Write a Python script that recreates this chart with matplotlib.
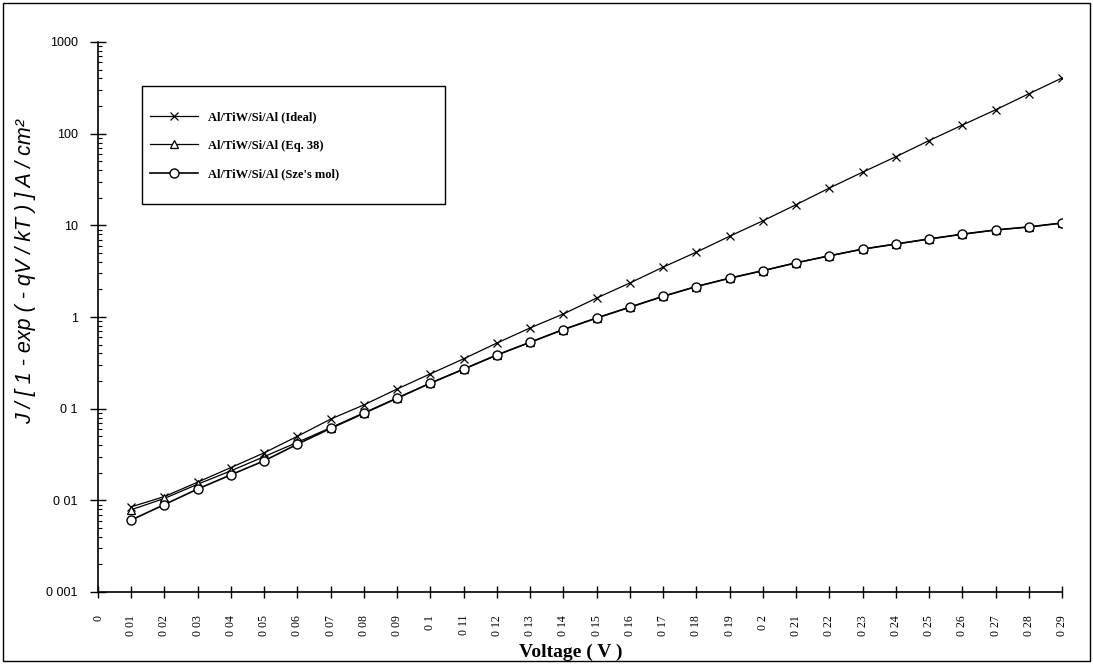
import matplotlib
matplotlib.use("Agg")
import matplotlib.pyplot as plt
from matplotlib.patches import Rectangle
from matplotlib.ticker import FixedLocator, LogLocator, NullFormatter

# ---- data ----
voltage_labels = ["0", "0 01", "0 02", "0 03", "0 04", "0 05", "0 06", "0 07", "0 08", "0 09",
                  "0 1", "0 11", "0 12", "0 13", "0 14", "0 15", "0 16", "0 17", "0 18", "0 19",
                  "0 2", "0 21", "0 22", "0 23", "0 24", "0 25", "0 26", "0 27", "0 28", "0 29"]

ideal = [None, 0.0085, 0.011, 0.0158, 0.0228, 0.033, 0.050, 0.077, 0.110, 0.164,
         0.24, 0.35, 0.52, 0.76, 1.08, 1.61, 2.35, 3.5, 5.1, 7.6,
         11.2, 16.8, 25.5, 38, 56, 84, 124, 182, 272, 405]
eq38 = [None, 0.0079, 0.0105, 0.0150, 0.0210, 0.030, 0.043, 0.062, 0.090, 0.131,
        0.19, 0.27, 0.385, 0.53, 0.73, 0.975, 1.28, 1.68, 2.15, 2.65,
        3.2, 3.9, 4.65, 5.5, 6.25, 7.1, 8.0, 8.9, 9.6, 10.6]
sze = [None, 0.0061, 0.0090, 0.0133, 0.019, 0.027, 0.041, 0.061, 0.089, 0.130,
       0.19, 0.27, 0.385, 0.53, 0.73, 0.975, 1.28, 1.68, 2.15, 2.65,
       3.2, 3.9, 4.65, 5.5, 6.25, 7.1, 8.0, 8.9, 9.6, 10.6]

series_names = ["Al/TiW/Si/Al (Ideal)", "Al/TiW/Si/Al (Eq. 38)", "Al/TiW/Si/Al (Sze's mol)"]
y_tick_values = [0.001, 0.01, 0.1, 1, 10, 100, 1000]
y_tick_labels = ["0 001", "0 01", "0 1", "1", "10", "100", "1000"]

x_label = "Voltage ( V )"
y_label = "J / [ 1 - exp ( - qV / kT ) ] A / cm\u00b2"

# ---- figure ----
W, H = 1093, 664
fig = plt.figure(figsize=(W / 100, H / 100), dpi=100)
fig.patch.set_facecolor("white")

left_px, right_px, top_px, bot_px = 98, 1062, 42, 592
ax = fig.add_axes([left_px / W, 1 - bot_px / H, (right_px - left_px) / W, (bot_px - top_px) / H])

xs = list(range(len(voltage_labels)))

def clean(vals):
    return [(x, v) for x, v in zip(xs, vals) if v is not None]

p = clean(ideal)
ax.plot([a for a, b in p], [b for a, b in p], color="black", lw=0.9, marker="x",
        ms=6, mew=0.9, label=series_names[0], zorder=3)
p = clean(eq38)
ax.plot([a for a, b in p], [b for a, b in p], color="black", lw=0.9, marker="^",
        ms=5.5, mew=0.9, mfc="white", label=series_names[1], zorder=4)
p = clean(sze)
ax.plot([a for a, b in p], [b for a, b in p], color="black", lw=1.2, marker="o",
        ms=6.5, mew=1.0, mfc="white", label=series_names[2], zorder=5)

ax.set_yscale("log")
ax.set_ylim(0.001, 1000)
ax.set_xlim(0, len(voltage_labels) - 1)

ax.yaxis.set_major_locator(FixedLocator(y_tick_values))
ax.set_yticklabels(y_tick_labels, fontfamily="Liberation Sans", fontsize=9)
ax.yaxis.set_minor_locator(LogLocator(base=10, subs=range(2, 10)))
ax.yaxis.set_minor_formatter(NullFormatter())
ax.tick_params(axis="y", which="major", direction="inout", length=11, width=1.0, pad=9)
ax.tick_params(axis="y", which="minor", direction="in", length=3, width=0.8)

ax.set_xticks(xs)
ax.set_xticklabels(voltage_labels, rotation=90, fontfamily="Liberation Serif", fontsize=8.5)
ax.tick_params(axis="x", which="major", direction="inout", length=9, width=1.0, pad=12)
ax.tick_params(axis="x", which="minor", bottom=False)

for s in ["top", "right"]:
    ax.spines[s].set_visible(False)
for s in ["left", "bottom"]:
    ax.spines[s].set_linewidth(1.2)

fig.text(571 / W, 1 - 652 / H, x_label, ha="center", va="center",
         fontfamily="Liberation Serif", fontweight="bold", fontsize=14)
fig.text(26 / W, 1 - 272 / H, y_label, ha="center", va="center", rotation=90,
         fontfamily="Liberation Sans", fontstyle="italic", fontsize=15.5)

# legend: entries placed inside a drawn box (box drawn in figure pixels)
leg_box = (142, 86, 445, 204)  # left, top, right, bottom in pixels
ax.add_patch(Rectangle((leg_box[0] / W, 1 - leg_box[3] / H),
                       (leg_box[2] - leg_box[0]) / W, (leg_box[3] - leg_box[1]) / H,
                       transform=fig.transFigure, fill=True, facecolor="white",
                       edgecolor="black", lw=1.0, zorder=6, clip_on=False))
leg = ax.legend(loc="upper left", bbox_to_anchor=(150 / W, 1 - 111 / H),
                bbox_transform=fig.transFigure, frameon=False,
                handlelength=3.8, labelspacing=1.32, borderpad=0.0, borderaxespad=0.0,
                handletextpad=0.8,
                prop={"family": "Liberation Serif", "weight": "bold", "size": 9})
leg.set_zorder(7)

# outer frame
fig.add_artist(Rectangle((3 / W, 3 / H), 1 - 6 / W, 1 - 6 / H, transform=fig.transFigure,
                         fill=False, edgecolor="black", lw=1.0))

fig.savefig("out.png", dpi=100, facecolor="white")
